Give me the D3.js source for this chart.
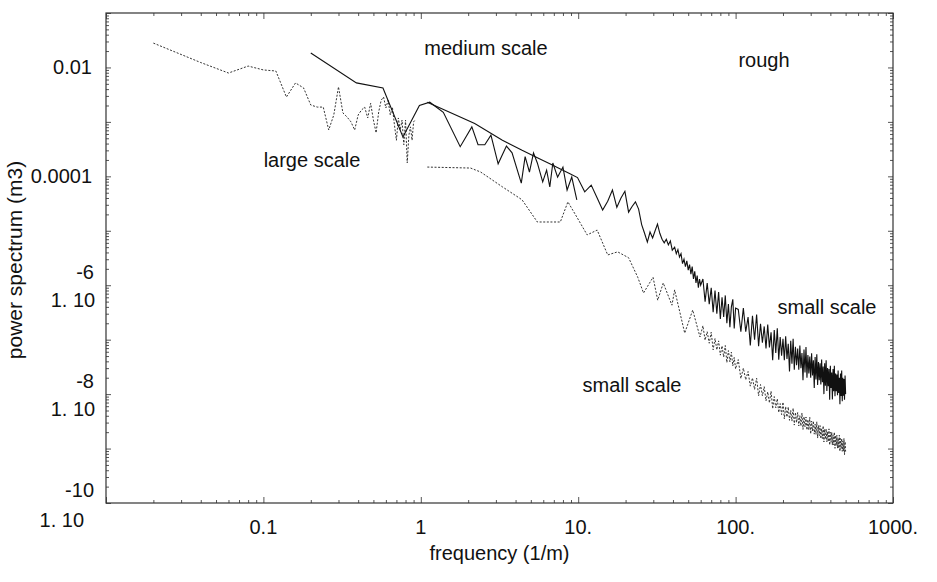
<!DOCTYPE html>
<html><head><meta charset="utf-8">
<script src="https://cdn.jsdelivr.net/npm/d3@7"></script>
<style>
html,body{margin:0;padding:0;background:#fff;}
svg{display:block;font-family:"Liberation Sans",Arial,Helvetica,sans-serif;}
</style></head>
<body><svg id="chart" width="937" height="582"></svg>
<script>
// ---------- data ----------
const xTickValues = [0.1, 1, 10, 100, 1000];
const xTickLabels = ["0.1", "1", "10.", "100.", "1000."];
const yTickValues = [1e-2, 1e-4, 1e-6, 1e-8, 1e-10];
const yTickPlain = ["0.01", "0.0001", "", "", ""];
const yTickBase = ["", "", "1. 10", "1. 10", "1. 10"];
const yTickExp = ["", "", "-6", "-8", "-10"];

// large scale (dotted)
const largeFreq = [0.02,0.04,0.06,0.08,0.10,0.12,0.14,0.16,0.18,0.20,0.22,0.24,0.26,0.28,0.30,0.32,0.34,0.36,0.38,0.40,0.42,0.44,0.46,0.48,0.50,0.52,0.54,0.56,0.58,0.60,0.62,0.64,0.66,0.68,0.70,0.72,0.74,0.76,0.78,0.80,0.82,0.84,0.86,0.88,0.90,0.92];
const largePow = [2.8e-2,1.23e-2,7.9e-3,1.06e-2,9.0e-3,8.6e-3,2.86e-3,5.2e-3,4.2e-3,2.04e-3,1.87e-3,1.87e-3,7.1e-4,1.34e-3,4.4e-3,1.46e-3,1.23e-3,1.0e-3,7.1e-4,1.34e-3,1.65e-3,1.87e-3,1.18e-3,2.2e-3,1.08e-3,6.3e-4,1.52e-3,2.5e-3,2.86e-3,1.8e-3,2.5e-3,1.34e-3,1.87e-3,8.8e-4,4.6e-4,1.18e-3,7.1e-4,1.08e-3,3.8e-4,1.08e-3,1.76e-4,5.7e-4,8.1e-4,4.6e-4,1.0e-3,1.08e-3];

// medium scale (solid)
const mediumFreq = [0.2,0.39,0.575,0.77,0.98,1.14,1.39,1.78,2.11,2.31,2.55,2.79,3.1,3.5,3.8,4.35,4.6,4.9,5.2,5.5,5.95,6.3,6.6,6.9,7.4,8.0,8.5,9.1,9.8];
const mediumPow = [1.84e-2,5.2e-3,4.2e-3,5.3e-4,2.0e-3,2.3e-3,1.5e-3,3.5e-4,8.1e-4,3.8e-4,3.8e-4,5.7e-4,1.7e-4,3.6e-4,2.7e-4,7.5e-5,2.3e-4,1.2e-4,2.7e-4,1.76e-4,7.9e-5,1.3e-4,6.4e-5,1.76e-4,9.7e-5,1.48e-4,5.6e-5,9.7e-5,3.7e-5];

// shared high-frequency grid
const denseFreq = [62,64,66,68,70,72,74,76,78,80,82,84,86,88,90,92,94,96,98,100,
104,108,112,116,120,124,128,132,136,140,144,148,152,156,160,164,168,172,176,180,184,188,192,196,200,
204,208,212,216,220,224,228,232,236,240,244,248,252,256,260,264,268,272,276,280,284,288,292,296,300,
304,308,312,316,320,324,328,332,336,340,344,348,352,356,360,364,368,372,376,380,384,388,392,396,400,
404,408,412,416,420,424,428,432,436,440,444,448,452,456,460,464,468,472,476,480,484,488,492,496,500];

// rough (solid, upper)
const roughLowFreq = [1.1,2.2,3.3,4.4,5.5,6.6,7.7,8.8,9.9,11,12.1,13.2,14.3,15.4,16.5,17.6,18.7,19.8,20.9,22,23.1,24.2,25.3,26.4,27.5,28.6,29.7,30.8,31.9,33,34.1,35.2,36.3,37.4,38.5,39.6,41,42,43,44,45,46,47,48,49,50,51,52,53,54,55,56,57,58,59,60];
const roughLowPow = [2.3e-3,9.3e-4,4.6e-4,3.0e-4,2.2e-4,1.7e-4,1.36e-4,1.13e-4,9.5e-5,5.2e-5,6.9e-5,4.0e-5,2.4e-5,3.5e-5,5.6e-5,2.7e-5,4.0e-5,5.3e-5,2.2e-5,2.8e-5,3.4e-5,2.5e-5,1.3e-5,9e-6,6.2e-6,9.5e-6,7.4e-6,1.0e-5,1.33e-5,9e-6,7e-6,6.0e-6,7e-6,5.5e-6,6.5e-6,4.4e-6,5e-6,3.8e-6,4.5e-6,3.3e-6,3.8e-6,2.5e-6,3.0e-6,2.2e-6,2.8e-6,1.9e-6,2.4e-6,1.6e-6,2.2e-6,1.3e-6,1.8e-6,1.1e-6,1.5e-6,0.9e-6,1.3e-6,1.0e-6];
const roughDensePow = [1.3e-6,5.0e-7,1.1e-6,4.5e-7,9.0e-7,3.2e-7,8.0e-7,3.0e-7,7.5e-7,2.4e-7,6.0e-7,2.6e-7,6.5e-7,2.0e-7,4.5e-7,1.7e-7,4.0e-7,5.5e-7,1.6e-7,3.8e-7,
3.6e-7,1.4e-7,3.8e-7,1.4e-7,2.6e-7,7.8e-8,2.75e-7,1.0e-7,2.9e-7,7.6e-8,1.95e-7,8.8e-8,1.75e-7,6.9e-8,1.9e-7,7.2e-8,1.36e-7,4.2e-8,1.5e-7,5.7e-8,1.62e-7,4.3e-8,1.12e-7,5.1e-8,1.04e-7,
4.2e-8,1.15e-7,4.4e-8,8.4e-8,2.6e-8,9.5e-8,3.6e-8,1.04e-7,2.8e-8,7.4e-8,3.4e-8,6.9e-8,2.8e-8,7.8e-8,3.0e-8,5.7e-8,1.8e-8,6.6e-8,2.5e-8,7.3e-8,2.0e-8,5.2e-8,2.4e-8,4.9e-8,2.0e-8,
5.6e-8,2.2e-8,4.2e-8,1.3e-8,4.8e-8,1.85e-8,5.4e-8,1.47e-8,3.9e-8,1.8e-8,3.7e-8,1.5e-8,4.3e-8,1.66e-8,3.2e-8,1.0e-8,3.7e-8,1.42e-8,4.2e-8,1.14e-8,3.0e-8,1.4e-8,2.9e-8,7.9e-9,3.3e-8,
1.3e-8,2.5e-8,8.0e-9,2.9e-8,1.13e-8,3.3e-8,9.1e-9,2.4e-8,1.13e-8,2.3e-8,9.5e-9,2.7e-8,1.05e-8,2.0e-8,6.5e-9,2.4e-8,9.2e-9,2.7e-8,7.4e-9,2.0e-8,9.3e-9,1.9e-8,7.9e-9,2.2e-8,1.0e-8];

// small scale (dotted, lower)
const smallLowFreq = [1.1,2.07,2.4,3.3,3.8,4.4,5.5,6.6,7.7,8.6,9.9,11.4,13.2,15.4,17.8,20.9,23.9,26,29.9,32,34.7,39.4,41,47.5,53.4,59.4];
const smallLowPow = [1.48e-4,1.42e-4,1.2e-4,6.4e-5,4.9e-5,3.7e-5,1.45e-5,1.45e-5,1.45e-5,3.4e-5,1.7e-5,8.4e-6,1.03e-5,3.6e-6,4.1e-6,3.2e-6,1.4e-6,7.2e-7,1.4e-6,5.3e-7,1.1e-6,4.3e-7,8.2e-7,1.32e-7,3.5e-7,1.12e-7];
const smallDensePow = [1.8e-7,9.8e-8,1.4e-7,8.6e-8,1.37e-7,6.5e-8,1.05e-7,6.5e-8,9.5e-8,5.2e-8,7.7e-8,4.8e-8,7.8e-8,3.8e-8,6.3e-8,3.9e-8,5.9e-8,3.3e-8,4.7e-8,2.9e-8,
4.3e-8,1.93e-8,3.0e-8,1.83e-8,2.6e-8,1.4e-8,1.98e-8,1.22e-8,1.96e-8,9.3e-9,1.5e-8,9.3e-9,1.37e-8,7.5e-9,1.1e-8,6.9e-9,1.13e-8,5.4e-9,9.0e-9,5.6e-9,8.2e-9,4.6e-9,6.7e-9,4.2e-9,7.1e-9,
3.5e-9,5.9e-9,3.8e-9,5.8e-9,3.3e-9,5.0e-9,3.2e-9,5.5e-9,2.7e-9,4.6e-9,3.0e-9,4.6e-9,2.6e-9,4.0e-9,2.6e-9,4.5e-9,2.25e-9,3.85e-9,2.5e-9,3.8e-9,2.2e-9,3.4e-9,2.2e-9,3.75e-9,1.87e-9,
3.2e-9,2.1e-9,3.2e-9,1.84e-9,2.8e-9,1.82e-9,3.1e-9,1.56e-9,2.66e-9,1.73e-9,2.64e-9,1.52e-9,2.33e-9,1.53e-9,2.6e-9,1.32e-9,2.28e-9,1.49e-9,2.29e-9,1.33e-9,2.04e-9,1.34e-9,2.3e-9,1.16e-9,1.99e-9,
1.3e-9,2.0e-9,1.16e-9,1.79e-9,1.17e-9,2.0e-9,1.01e-9,1.74e-9,1.14e-9,1.76e-9,1.02e-9,1.56e-9,1.02e-9,1.76e-9,8.9e-10,1.53e-9,1.0e-9,1.53e-9,8.9e-10,1.37e-9,9.0e-10,1.54e-9,7.7e-10,1.34e-9,8.8e-10];

const roughFreq = roughLowFreq.concat(denseFreq);
const roughPow = roughLowPow.concat(roughDensePow);
const smallFreq = smallLowFreq.concat(denseFreq);
const smallPow = smallLowPow.concat(smallDensePow);

// ---------- drawing ----------
const L = 106, R = 893, T = 13, B = 503;
const svg = d3.select("#chart");
const x = d3.scaleLog().domain([0.01, 1000]).range([L, R]);
const y = d3.scaleLog().domain([1e-10, 1e-1]).range([B, T]);

function zip(fs, ps) { return fs.map((f, i) => [f, ps[i]]); }
const line = d3.line().x(d => x(d[0])).y(d => y(d[1]));

// minor / major tick sets
const xMinor = [], yMinor = [];
for (let e = -2; e < 3; e++) for (let m = 2; m <= 9; m++) xMinor.push(m * Math.pow(10, e));
for (let e = -10; e < -1; e++) for (let m = 2; m <= 9; m++) yMinor.push(m * Math.pow(10, e));
const yDecades = d3.range(-10, 0).map(e => Math.pow(10, e));
const xDecades = [0.01, 0.1, 1, 10, 100, 1000];

function axisGroup(axis, tx, ty) {
  const g = svg.append("g").attr("transform", `translate(${tx},${ty})`).call(axis);
  g.select(".domain").remove();
  g.selectAll("text").remove();
  g.selectAll("line").attr("stroke", "#555").attr("stroke-width", 1);
  return g;
}
// bottom & top
axisGroup(d3.axisBottom(x).tickValues(xMinor).tickSize(-3).tickFormat(""), 0, B);
axisGroup(d3.axisBottom(x).tickValues(xDecades).tickSize(-6).tickFormat(""), 0, B);
axisGroup(d3.axisTop(x).tickValues(xMinor).tickSize(-3).tickFormat(""), 0, T);
axisGroup(d3.axisTop(x).tickValues(xDecades).tickSize(-6).tickFormat(""), 0, T);
// left & right
axisGroup(d3.axisLeft(y).tickValues(yMinor).tickSize(-3).tickFormat(""), L, 0);
axisGroup(d3.axisLeft(y).tickValues(yDecades).tickSize(-5).tickFormat(""), L, 0);
axisGroup(d3.axisRight(y).tickValues(yMinor).tickSize(-3).tickFormat(""), R, 0);
axisGroup(d3.axisRight(y).tickValues(yDecades).tickSize(-5).tickFormat(""), R, 0);

// frame
svg.append("rect").attr("x", L).attr("y", T).attr("width", R - L).attr("height", B - T)
  .attr("fill", "none").attr("stroke", "#333").attr("stroke-width", 1.2);

// series
const plot = svg.append("g");
plot.append("path").attr("d", line(zip(largeFreq, largePow)))
  .attr("fill", "none").attr("stroke", "#333").attr("stroke-width", 1).attr("stroke-dasharray", "2,1.6");
plot.append("path").attr("d", line(zip(smallFreq, smallPow)))
  .attr("fill", "none").attr("stroke", "#333").attr("stroke-width", 1).attr("stroke-dasharray", "2,1.6");
plot.append("path").attr("d", line(zip(mediumFreq, mediumPow)))
  .attr("fill", "none").attr("stroke", "#111").attr("stroke-width", 1.1);
plot.append("path").attr("d", line(zip(roughFreq, roughPow)))
  .attr("fill", "none").attr("stroke", "#111").attr("stroke-width", 1.1);

// x labels
const fs = 20;
svg.append("g").selectAll("text").data(xTickValues).join("text")
  .attr("x", d => x(d)).attr("y", 534).attr("text-anchor", "middle")
  .attr("font-size", fs).attr("fill", "#111")
  .text((d, i) => xTickLabels[i]);

// y labels
const yl = svg.append("g");
yTickValues.forEach((v, i) => {
  const py = y(v);
  if (yTickPlain[i]) {
    yl.append("text").attr("x", 92).attr("y", py + 7).attr("text-anchor", "end")
      .attr("font-size", fs).attr("fill", "#111").text(yTickPlain[i]);
  } else {
    const ex = yl.append("text").attr("x", 94).attr("y", py - 13 + 7).attr("text-anchor", "end")
      .attr("font-size", fs).attr("fill", "#111").text(yTickExp[i]);
    const w = ex.node().getComputedTextLength();
    const baseEnd = 94 - w + 19;
    const dy = (v === 1e-10) ? 17 : 15;
    yl.append("text").attr("x", baseEnd).attr("y", py + dy + 7).attr("text-anchor", "end")
      .attr("font-size", fs).attr("fill", "#111").text(yTickBase[i]);
  }
});

// axis titles
svg.append("text").attr("x", (L + R) / 2).attr("y", 560).attr("text-anchor", "middle")
  .attr("font-size", fs).attr("fill", "#111").text("frequency (1/m)");
svg.append("text").attr("transform", `translate(22,260) rotate(-90)`)
  .attr("text-anchor", "middle").attr("font-size", 21).attr("fill", "#111").text("power spectrum (m3)");

// annotations
const notes = [
  { t: "rough", cx: 764, cy: 60 },
  { t: "medium scale", cx: 486, cy: 48 },
  { t: "large scale", cx: 312, cy: 160 },
  { t: "small scale", cx: 827, cy: 307 },
  { t: "small scale", cx: 632, cy: 385 }
];
svg.append("g").selectAll("text").data(notes).join("text")
  .attr("x", d => d.cx).attr("y", d => d.cy + 7).attr("text-anchor", "middle")
  .attr("font-size", fs).attr("fill", "#111").text(d => d.t);
</script>
</body></html>
